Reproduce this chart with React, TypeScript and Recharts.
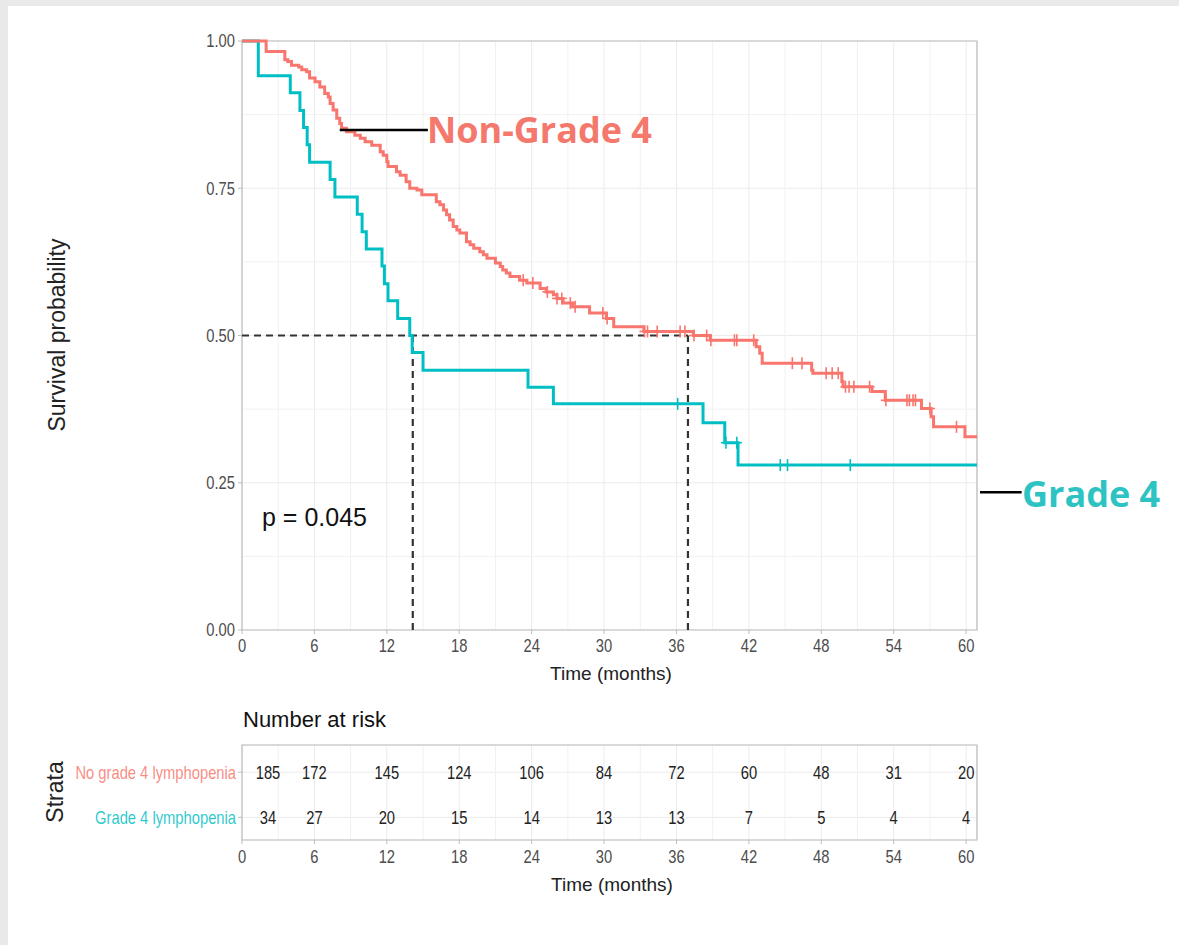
import React from "react";
import {
  CartesianGrid,
  ComposedChart,
  Line,
  ReferenceArea,
  ReferenceLine,
  XAxis,
  YAxis
} from "recharts";

// axis breaks
const monthTicks = [0, 6, 12, 18, 24, 30, 36, 42, 48, 54, 60];
const minorMonths = [3, 9, 15, 21, 27, 33, 39, 45, 51, 57];
const survTicks = [0, 0.25, 0.5, 0.75, 1];
const minorSurv = [0.125, 0.375, 0.625, 0.875];
const X_MAX = 60.9;

// Kaplan-Meier steps
const nonGrade4Time = [
  0, 2.0, 3.55, 3.8, 4.1, 4.7, 4.95, 5.35, 5.6, 6.05, 6.45, 6.85, 7.15, 7.3, 7.55, 7.85, 8.1, 8.25,
  8.65, 9.35, 9.8, 10.2, 10.75, 11.45, 11.7, 12.0, 12.1, 12.8, 13.1, 13.6, 13.9, 14.5, 14.9, 16.1,
  16.4, 16.7, 16.95, 17.2, 17.5, 17.8, 18.05, 18.6, 18.9, 19.2, 19.7, 20.0, 20.3, 21.0, 21.4, 21.6,
  21.9, 22.2, 23.0, 23.6, 24.7, 25.2, 25.8, 26.1, 26.6, 27.4, 28.8, 30.2, 30.8, 33.3, 37.4, 38.8,
  42.6, 42.9, 43.1, 47.2, 47.3, 49.7, 49.8, 52.2, 53.3, 56.3, 57.1, 57.3, 59.9, 60.9
];
const nonGrade4Surv = [
  1, 0.982, 0.968, 0.965, 0.959, 0.956, 0.951, 0.948, 0.937, 0.931, 0.922, 0.911, 0.905, 0.894,
  0.883, 0.869, 0.86, 0.852, 0.846, 0.84, 0.835, 0.829, 0.823, 0.812, 0.806, 0.795, 0.787, 0.778,
  0.772, 0.761, 0.75, 0.747, 0.739, 0.727, 0.722, 0.713, 0.705, 0.696, 0.685, 0.679, 0.674, 0.659,
  0.654, 0.648, 0.642, 0.637, 0.631, 0.623, 0.617, 0.611, 0.606, 0.6, 0.594, 0.589, 0.58, 0.574,
  0.569, 0.563, 0.555, 0.549, 0.538, 0.529, 0.515, 0.507, 0.5, 0.492, 0.481, 0.47, 0.453, 0.441,
  0.436, 0.422, 0.413, 0.405, 0.39, 0.376, 0.362, 0.345, 0.328, 0.328
];
const nonGrade4Censor = [
  23.3, 24.1, 25.3, 26.1, 26.5, 27.2, 27.6, 29.9, 30.25, 33.35, 33.6, 34.4, 36.3, 36.7, 37.45, 38.5,
  38.85, 40.8, 41.0, 42.4, 45.6, 46.4, 48.4, 48.9, 49.4, 50.0, 50.3, 50.7, 52.0, 53.35, 55.1, 55.3,
  55.6, 55.8, 57.0, 59.2
];

const grade4Time = [
  0, 1.35, 4.0, 4.8, 5.1, 5.4, 5.6, 7.3, 7.7, 9.55, 9.95, 10.3, 11.6, 11.8, 12.1, 12.9, 13.9, 14.1,
  15.0, 23.7, 25.8, 38.2, 40.0, 41.1, 60.9
];
const grade4Surv = [
  1, 0.941, 0.912, 0.882, 0.853, 0.824, 0.794, 0.765, 0.735, 0.706, 0.676, 0.647, 0.618, 0.588,
  0.559, 0.529, 0.5, 0.471, 0.441, 0.412, 0.384, 0.352, 0.318, 0.28, 0.28
];
const grade4Censor = [36.1, 40.1, 41.0, 44.6, 45.2, 50.4];

const medianNonGrade4 = 36.95;
const medianGrade4 = 14.15;
const pValueText = "p = 0.045";

// number at risk table
const strataNames = ["No grade 4 lymphopenia", "Grade 4 lymphopenia"];
const atRiskNonGrade4 = [185, 172, 145, 124, 106, 84, 72, 60, 48, 31, 20];
const atRiskGrade4 = [34, 27, 20, 15, 14, 13, 13, 7, 5, 4, 4];

const RED = "#F8766D";
const TEAL = "#00BFC4";
const GRID = "#ebebeb";
const BORDER = "#bdbdbd";
const TICK_TEXT = "#4d4d4d";
const SANS = "'Liberation Sans', Arial, sans-serif";
const SQUEEZE = 0.82; // axis text in the source looks horizontally condensed

const toPoints = (times: number[], surv: number[]) => times.map((t, i) => ({ t, s: surv[i] }));

const survAt = (times: number[], surv: number[], t: number) => {
  let s = surv[0];
  for (let i = 0; i < times.length; i++) if (times[i] <= t) s = surv[i];
  return s;
};

const nonGrade4Curve = toPoints(nonGrade4Time, nonGrade4Surv);
const grade4Curve = toPoints(grade4Time, grade4Surv);
const nonGrade4Marks = nonGrade4Censor.map((t) => ({ t, s: survAt(nonGrade4Time, nonGrade4Surv, t) }));
const grade4Marks = grade4Censor.map((t) => ({ t, s: survAt(grade4Time, grade4Surv, t) }));

const riskRows = [
  monthTicks.map((t, i) => ({ t, row: 2, n: atRiskNonGrade4[i] })),
  monthTicks.map((t, i) => ({ t, row: 1, n: atRiskGrade4[i] }))
];

function Narrow(props: {
  x: number;
  y: number;
  anchor: "start" | "middle" | "end";
  dy: string;
  size: number;
  fill: string;
  opacity?: number;
  children: React.ReactNode;
}) {
  return (
    <text
      transform={`translate(${props.x},${props.y}) scale(${SQUEEZE},1)`}
      x={0}
      y={0}
      dy={props.dy}
      textAnchor={props.anchor}
      fontSize={props.size}
      fill={props.fill}
      fillOpacity={props.opacity ?? 1}
    >
      {props.children}
    </text>
  );
}

function MonthTick(p: any) {
  return (
    <Narrow x={p.x} y={p.y} anchor="middle" dy="0.71em" size={18} fill={TICK_TEXT}>
      {p.payload.value}
    </Narrow>
  );
}

function SurvTick(p: any) {
  return (
    <Narrow x={p.x} y={p.y} anchor="end" dy="0.355em" size={18} fill={TICK_TEXT}>
      {Number(p.payload.value).toFixed(2)}
    </Narrow>
  );
}

function StrataTick(p: any) {
  const v = p.payload.value;
  return (
    <Narrow x={p.x} y={p.y} anchor="end" dy="0.355em" size={18} fill={v === 2 ? RED : TEAL} opacity={0.85}>
      {v === 2 ? strataNames[0] : strataNames[1]}
    </Narrow>
  );
}

function censorDot(color: string) {
  return (p: any) => {
    if (p.cx == null || p.cy == null) return <g key={p.index} />;
    return (
      <g key={p.index}>
        <line x1={p.cx} x2={p.cx} y1={p.cy - 6} y2={p.cy + 6} stroke={color} strokeWidth={1.6} />
        <line x1={p.cx - 5} x2={p.cx + 5} y1={p.cy} y2={p.cy} stroke={color} strokeWidth={1.6} />
      </g>
    );
  };
}

function countDot(p: any) {
  if (p.cx == null || p.cy == null) return <g key={p.index} />;
  // first column sits a little right of 0, as in the source table
  const shift = p.index === 0 ? 26 : 0;
  return (
    <g key={p.index}>
      <Narrow x={p.cx + shift} y={p.cy} anchor="middle" dy="0.355em" size={18} fill="#222">
        {p.payload.n}
      </Narrow>
    </g>
  );
}

const abs = (left: number, top: number, extra: React.CSSProperties): React.CSSProperties => ({
  position: "absolute",
  left,
  top,
  whiteSpace: "nowrap",
  lineHeight: 1,
  ...extra
});

function SurvivalChart() {
  return (
    <ComposedChart width={1179} height={700} margin={{ top: 41, right: 202, left: 182, bottom: 40 }}>
      <CartesianGrid stroke={GRID} />
      {minorMonths.map((m) => (
        <ReferenceLine key={"mx" + m} x={m} stroke="#f1f1f1" zIndex={-100} />
      ))}
      {minorSurv.map((v) => (
        <ReferenceLine key={"my" + v} y={v} stroke="#f1f1f1" zIndex={-100} />
      ))}
      <XAxis
        type="number"
        dataKey="t"
        domain={[0, X_MAX]}
        ticks={monthTicks}
        interval={0}
        allowDataOverflow
        axisLine={false}
        stroke={BORDER}
        tickSize={4}
        tickMargin={5}
        tick={<MonthTick />}
      />
      <YAxis
        type="number"
        domain={[0, 1]}
        ticks={survTicks}
        interval={0}
        width={60}
        axisLine={false}
        stroke={BORDER}
        tickSize={4}
        tickMargin={3}
        tick={<SurvTick />}
      />
      <ReferenceArea x1={0} x2={X_MAX} y1={0} y2={1} fill="none" stroke={BORDER} strokeWidth={1.2} />
      <ReferenceLine
        segment={[{ x: 0, y: 0.5 }, { x: medianNonGrade4, y: 0.5 }]}
        stroke="#333"
        strokeWidth={2.2}
        strokeDasharray="7 5"
      />
      <ReferenceLine
        segment={[{ x: medianGrade4, y: 0 }, { x: medianGrade4, y: 0.5 }]}
        stroke="#333"
        strokeWidth={2.2}
        strokeDasharray="7 5"
      />
      <ReferenceLine
        segment={[{ x: medianNonGrade4, y: 0 }, { x: medianNonGrade4, y: 0.5 }]}
        stroke="#333"
        strokeWidth={2.2}
        strokeDasharray="7 5"
      />
      <Line
        data={grade4Curve}
        dataKey="s"
        type="stepAfter"
        stroke={TEAL}
        strokeWidth={3}
        dot={false}
        isAnimationActive={false}
      />
      <Line
        data={nonGrade4Curve}
        dataKey="s"
        type="stepAfter"
        stroke={RED}
        strokeWidth={3}
        dot={false}
        isAnimationActive={false}
      />
      <Line data={grade4Marks} dataKey="s" stroke="none" dot={censorDot(TEAL)} isAnimationActive={false} />
      <Line data={nonGrade4Marks} dataKey="s" stroke="none" dot={censorDot(RED)} isAnimationActive={false} />
      {/* annotation leaders */}
      <ReferenceLine segment={[{ x: 8.1, y: 0.849 }, { x: 15.4, y: 0.849 }]} stroke="#000" strokeWidth={2.5} />
      <ReferenceLine
        segment={[{ x: 61.15, y: 0.234 }, { x: 64.6, y: 0.234 }]}
        stroke="#000"
        strokeWidth={2.5}
        ifOverflow="visible"
      />
    </ComposedChart>
  );
}

function RiskTable() {
  return (
    <ComposedChart width={1179} height={230} margin={{ top: 45, right: 202, left: 182, bottom: 60 }}>
      <CartesianGrid stroke={GRID} />
      {minorMonths.map((m) => (
        <ReferenceLine key={"tx" + m} x={m} stroke="#f1f1f1" zIndex={-100} />
      ))}
      <XAxis
        type="number"
        dataKey="t"
        domain={[0, X_MAX]}
        ticks={monthTicks}
        interval={0}
        allowDataOverflow
        axisLine={false}
        stroke={BORDER}
        tickSize={4}
        tickMargin={6}
        tick={<MonthTick />}
      />
      <YAxis
        type="number"
        domain={[0.5, 2.6]}
        ticks={[1, 2]}
        interval={0}
        width={60}
        axisLine={false}
        stroke={BORDER}
        tickSize={4}
        tickMargin={2}
        tick={<StrataTick />}
      />
      <ReferenceArea x1={0} x2={X_MAX} y1={0.5} y2={2.6} fill="none" stroke={BORDER} strokeWidth={1.2} />
      {riskRows.map((rows, k) => (
        <Line key={k} data={rows} dataKey="row" stroke="none" dot={countDot} isAnimationActive={false} />
      ))}
    </ComposedChart>
  );
}

export default function App() {
  return (
    <div
      style={{
        position: "fixed",
        left: 0,
        top: 0,
        width: 1179,
        height: 945,
        background: "#fff",
        overflow: "hidden",
        fontFamily: SANS
      }}
    >
      <style>{"html, body { margin: 0; overflow: hidden; background: #fff; }"}</style>
      <div style={{ position: "absolute", left: 0, top: 0, width: 1179, height: 6, background: "#e9e9e9" }} />
      <div style={{ position: "absolute", left: 0, top: 0, width: 8, height: 945, background: "#e9e9e9" }} />
      <div style={{ position: "absolute", left: 0, top: 0 }}>
        <SurvivalChart />
      </div>
      <div style={{ position: "absolute", left: 0, top: 700 }}>
        <RiskTable />
      </div>

      <div
        style={abs(57, 335, {
          transform: "translate(-50%, -50%) rotate(-90deg)",
          fontSize: 23,
          color: "#222"
        })}
      >
        Survival probability
      </div>
      <div style={abs(611, 673, { transform: "translate(-50%, -50%)", fontSize: 19, color: "#222" })}>
        Time (months)
      </div>
      <div style={abs(262, 517, { transform: "translateY(-50%)", fontSize: 25, color: "#111" })}>
        {pValueText}
      </div>
      <div
        style={abs(427, 130, {
          transform: "translateY(-50%)",
          fontFamily: "'Open Sans', sans-serif",
          fontWeight: 700,
          fontSize: 36,
          color: "#F4786C"
        })}
      >
        Non-Grade 4
      </div>
      <div
        style={abs(1022, 494, {
          transform: "translateY(-50%)",
          fontFamily: "'Open Sans', sans-serif",
          fontWeight: 700,
          fontSize: 36,
          color: "#2EC3C3"
        })}
      >
        Grade 4
      </div>

      <div style={abs(243, 720, { transform: "translateY(-50%)", fontSize: 22, color: "#111" })}>
        Number at risk
      </div>
      <div
        style={abs(55, 792, {
          transform: "translate(-50%, -50%) rotate(-90deg)",
          fontSize: 23,
          color: "#222"
        })}
      >
        Strata
      </div>
      <div style={abs(612, 884, { transform: "translate(-50%, -50%)", fontSize: 19, color: "#222" })}>
        Time (months)
      </div>
    </div>
  );
}
